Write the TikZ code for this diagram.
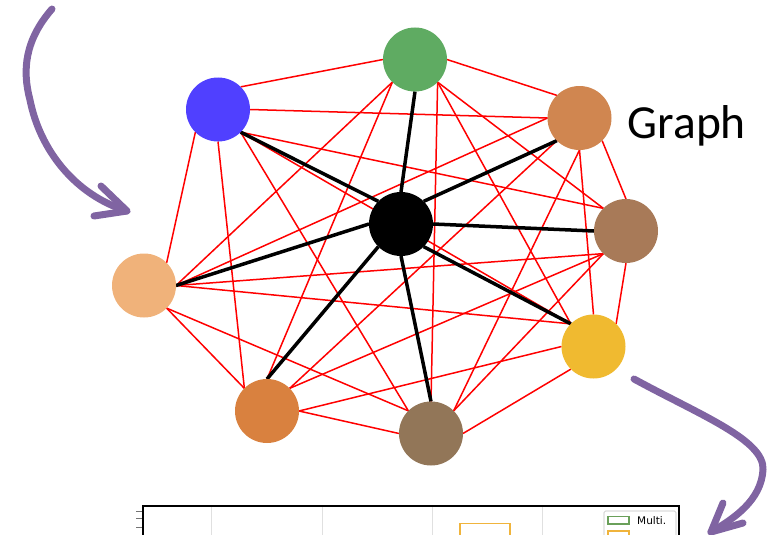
\documentclass[tikz,border=0pt]{standalone}
\usepackage{fontspec}
\setmainfont{Carlito}
\newfontfamily\legendfont{DejaVu Sans}
\usetikzlibrary{backgrounds}
\definecolor{cG}{RGB}{95,171,98}
\definecolor{cB}{RGB}{80,64,255}
\definecolor{cO}{RGB}{208,134,80}
\definecolor{cR}{RGB}{168,122,88}
\definecolor{cY}{RGB}{240,186,48}
\definecolor{cOB}{RGB}{217,129,63}
\definecolor{cBB}{RGB}{146,118,88}
\definecolor{cP}{RGB}{240,178,122}
\definecolor{arrowpurple}{RGB}{128,100,162}
\definecolor{barorange}{RGB}{240,180,60}
\definecolor{legendgreen}{RGB}{106,160,90}
\begin{document}
\begin{tikzpicture}[x=1pt,y=-1pt,
  vtx/.style={circle,minimum size=64pt,inner sep=0pt,outer sep=0pt,draw=none},
  redge/.style={draw=red,line width=1.5pt},
  bedge/.style={draw=black,line width=3.5pt},
  parrow/.style={draw=arrowpurple,line width=7pt,line cap=round,line join=round},
  grid/.style={draw=black!12,line width=0.6pt}]
\useasboundingbox (0,0) rectangle (771,535);
\clip (0,0) rectangle (771,535);

% vertices
\node[vtx,fill=cG]  (G)  at (415,59.5) {};
\node[vtx,fill=cB]  (B)  at (218,109.5) {};
\node[vtx,fill=cO]  (O)  at (579.5,118) {};
\node[vtx,fill=cR]  (R)  at (626,231) {};
\node[vtx,fill=cY]  (Y)  at (593.5,346.5) {};
\node[vtx,fill=cOB] (OB) at (267,411) {};
\node[vtx,fill=cBB] (BB) at (431,433.5) {};
\node[vtx,fill=cP]  (P)  at (144,285.5) {};
\node[vtx,fill=black] (C) at (401,224) {};

\begin{scope}[on background layer]
% red edges
\draw[redge] (G.west) -- (B.north east);
\draw[redge] (G.east) -- (O.north west);
\draw[redge] (G.south west) -- (P.east);
\draw[redge] (G.south west) -- (OB.north);
\draw[redge] (G.south east) -- (BB.north);
\draw[redge] (G.south east) -- (Y.north west);
\draw[redge] (G.south east) -- (R.north west);
\draw[redge] (B.east) -- (O.west);
\draw[redge] (B.south east) -- (R.north west);
\draw[redge] (B.south east) -- (BB.north west);
\draw[redge] (B.south east) -- (Y.north west);
\draw[redge] (B.south) -- (OB.north west);
\draw[redge] (B.south west) -- (P.north east);
\draw[redge] (O.west) -- (P.east);
\draw[redge] (O.south west) -- (OB.north east);
\draw[redge] (O.south) -- (BB.north east);
\draw[redge] (O.south) -- (Y.north);
\draw[redge] (O.south east) -- (R.north);
\draw[redge] (R.south west) -- (P.east);
\draw[redge] (R.south west) -- (OB.north east);
\draw[redge] (R.south west) -- (BB.north east);
\draw[redge] (R.south) -- (Y.north east);
\draw[redge] (Y.north west) -- (P.east);
\draw[redge] (Y.west) -- (OB.east);
\draw[redge] (Y.south west) -- (BB.east);
\draw[redge] (BB.north west) -- (P.south east);
\draw[redge] (BB.west) -- (OB.east);
\draw[redge] (OB.north west) -- (P.south east);
% black spokes
\draw[bedge] (C.north) -- (G.south);
\draw[bedge] (C.north west) -- (B.south east);
\draw[bedge] (C.north east) -- (O.south west);
\draw[bedge] (C.east) -- (R.west);
\draw[bedge] (C.south east) -- (Y.north west);
\draw[bedge] (C.south) -- (BB.north);
\draw[bedge] (C.south west) -- (OB.north);
\draw[bedge] (C.west) -- (P.east);
\end{scope}

% label
\node[anchor=base west,inner sep=0pt,font=\fontsize{47.5}{52}\selectfont] (lbl) at (627.5,138) {Graph};

% purple arrows
\coordinate (a1s) at (52,9);
\coordinate (a1m) at (30,100);
\coordinate (a1t) at (127,211);
\draw[parrow] (a1s) .. controls (25,40) and (22,70) .. (a1m)
  .. controls (40,150) and (75,195) .. (a1t);
\draw[parrow] (101,186) -- (a1t) -- (94,216);

\coordinate (a2s) at (634,379);
\coordinate (a2m) at (763,470);
\coordinate (a2t) at (711,532);
\draw[parrow] (a2s) .. controls (700,415) and (765,440) .. (a2m)
  .. controls (761,500) and (735,518) .. (a2t);
\draw[parrow] (723,503) -- (a2t) -- (743,523);

% partial chart at the bottom
\draw[grid] (211,507) -- (211,545);
\draw[grid] (322,507) -- (322,545);
\draw[grid] (432,507) -- (432,545);
\draw[grid] (542,507) -- (542,545);
\draw[black!55,line width=0.8pt] (136,511) -- (143,511);
\draw[black!55,line width=0.8pt] (136,518.5) -- (143,518.5);
\draw[black!55,line width=0.8pt] (136,527) -- (143,527);
\draw[black,line width=1.3pt] (143,545) -- (143,506) -- (679,506) -- (679,545);
\draw[barorange,line width=1.5pt] (460,545) -- (460,523.5) -- (510,523.5) -- (510,545);
\draw[black!25,line width=0.6pt,rounded corners=1.5pt] (604,545) -- (604,511) -- (676,511) -- (676,545);
\draw[legendgreen,line width=1.3pt,fill=white] (608,516.5) rectangle (629,524);
\draw[barorange,line width=1.3pt,fill=white] (608,531) rectangle (629,538);
\node[anchor=base west,inner sep=0pt,font=\legendfont\fontsize{10.5}{12}\selectfont] (leg1) at (637,524.5) {Multi.};
\end{tikzpicture}
\end{document}
